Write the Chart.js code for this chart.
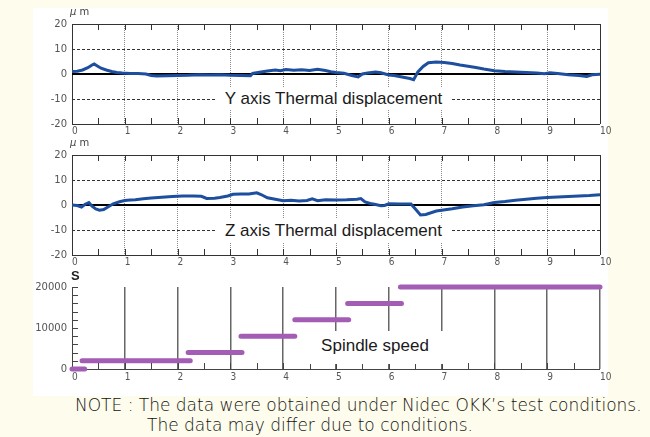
<!DOCTYPE html>
<html>
<head>
<meta charset="utf-8">
<script src="https://cdn.jsdelivr.net/npm/chart.js@4.4.0/dist/chart.umd.min.js"></script>
<style>
body { margin:0; width:650px; height:437px; overflow:hidden; position:relative; background:#fefcec; }
#panel { position:absolute; left:33px; top:8px; width:575px; height:388px; background:#fff; }
canvas { position:absolute; left:0; }
.box { position:absolute; background:#fff; font-family:"Liberation Sans", Arial, sans-serif; font-size:17px; color:#1a1a1a; text-align:center; }
.unit { position:absolute; left:70px; font-family:"DejaVu Sans", sans-serif; font-size:10px; color:#444; }
.unit i { font-style:italic; }
.s { position:absolute; left:71px; top:268px; font-family:"Liberation Sans", Arial, sans-serif; font-weight:bold; font-size:13px; color:#222; }
.note { position:absolute; font-family:"DejaVu Sans", sans-serif; font-weight:200; font-size:17px; line-height:20px; color:#111; white-space:nowrap; }
</style>
</head>
<body>
<div id="panel"></div>
<canvas id="cY" width="650" height="138" style="top:0;width:650px;height:138px"></canvas>
<canvas id="cZ" width="650" height="134" style="top:138px;width:650px;height:134px"></canvas>
<canvas id="cS" width="650" height="118" style="top:272px;width:650px;height:118px"></canvas>

<div class="unit" style="top:6px"><i>μ</i> m</div>
<div class="unit" style="top:137px"><i>μ</i> m</div>
<div class="s">S</div>
<div class="box" style="left:215px;top:87px;width:237px;height:23px;line-height:23px">Y axis Thermal displacement</div>
<div class="box" style="left:215px;top:219px;width:237px;height:23px;line-height:23px">Z axis Thermal displacement</div>
<div class="box" style="left:300px;top:331px;width:150px;height:33px;line-height:30px">Spindle speed</div>
<div class="note" style="left:75px;top:395px">NOTE : The data were obtained under Nidec OKK’s test conditions.</div>
<div class="note" style="left:147px;top:415px">The data may differ due to conditions.</div>

<script>
// Y axis thermal displacement (um) vs time
var timeY = [0, 0.1, 0.2, 0.3, 0.38, 0.42, 0.48, 0.55, 0.65, 0.75, 0.85, 0.95, 1.1, 1.25, 1.4, 1.5, 1.6, 1.8, 2.0, 2.2, 2.4, 2.6, 2.8, 3.0, 3.2, 3.38,
  3.42, 3.55, 3.7, 3.85, 3.95, 4.05, 4.2, 4.35, 4.5, 4.65, 4.8, 4.9, 5.0, 5.15, 5.3, 5.42, 5.5, 5.6, 5.75, 5.85, 6.0, 6.1, 6.25, 6.4, 6.47,
  6.55, 6.65, 6.75, 6.9, 7.05, 7.2, 7.35, 7.5, 7.65, 7.8, 8.0, 8.2, 8.4, 8.6, 8.8, 8.95, 9.05, 9.2, 9.4, 9.6, 9.75, 9.85, 10];
var dispY = [1.0, 1.1, 1.6, 2.5, 3.6, 4.0, 3.2, 2.3, 1.6, 1.0, 0.6, 0.4, 0.2, 0.2, 0.0, -0.6, -0.8, -0.7, -0.6, -0.5, -0.3, -0.4, -0.3, -0.5, -0.6, -0.7,
  0.2, 0.7, 1.2, 1.6, 1.3, 1.8, 1.5, 1.7, 1.4, 1.9, 1.4, 0.9, 0.6, 0.3, -0.6, -1.2, 0.0, 0.4, 0.8, 0.5, -0.4, -0.6, -1.2, -1.8, -2.3,
  0.8, 3.0, 4.5, 4.8, 4.6, 4.2, 3.6, 3.1, 2.6, 2.0, 1.3, 1.0, 0.8, 0.6, 0.4, 0.1, 0.5, 0.2, -0.3, -0.6, -1.0, -0.3, -0.1];

// Z axis thermal displacement (um) vs time
var timeZ = [0, 0.1, 0.18, 0.25, 0.32, 0.38, 0.45, 0.52, 0.6, 0.68, 0.78, 0.9, 1.0, 1.1, 1.2, 1.35, 1.5, 1.7, 1.9, 2.1, 2.3, 2.45, 2.55, 2.7, 2.8, 2.95,
  3.05, 3.2, 3.35, 3.5, 3.58, 3.7, 3.85, 4.0, 4.15, 4.3, 4.45, 4.55, 4.65, 4.8, 5.0, 5.2, 5.4, 5.47, 5.55, 5.65, 5.75, 5.85, 5.92, 6.0, 6.2, 6.42,
  6.5, 6.6, 6.7, 6.9, 7.0, 7.2, 7.4, 7.6, 7.8, 8.0, 8.2, 8.4, 8.6, 8.8, 9.0, 9.2, 9.4, 9.6, 9.8, 10];
var dispZ = [0.0, -0.2, -0.8, 0.3, 1.0, -0.5, -1.6, -2.1, -1.8, -0.8, 0.5, 1.3, 1.8, 2.0, 2.1, 2.5, 2.8, 3.1, 3.4, 3.6, 3.6, 3.5, 2.6, 2.7, 3.0, 3.6,
  4.3, 4.4, 4.4, 4.9, 4.2, 2.9, 2.3, 1.7, 1.9, 1.6, 1.8, 2.5, 1.7, 2.1, 2.0, 2.1, 2.3, 2.6, 1.2, 0.6, 0.2, -0.3, -0.2, 0.5, 0.4, 0.4,
  -1.5, -4.0, -3.8, -2.4, -2.1, -1.5, -0.8, -0.3, 0.1, 1.0, 1.4, 1.9, 2.3, 2.7, 3.0, 3.2, 3.4, 3.6, 3.8, 4.1];

// Spindle speed steps
var stepStart = [0, 0.19, 2.2, 3.2, 4.22, 5.22, 6.22];
var stepEnd = [0.24, 2.24, 3.22, 4.22, 5.24, 6.24, 10];
var stepSpeed = [0, 2000, 4000, 8000, 12000, 16000, 20000];

var tickFont = { family: 'DejaVu Sans', size: 10 };
var xFont = { family: 'DejaVu Sans Condensed', size: 10 };

var innerTicks = {
  id: 'innerTicks',
  afterDatasetsDraw: function (chart, args, o) {
    var ctx = chart.ctx, a = chart.chartArea, x = chart.scales.x, y = chart.scales.y;
    ctx.save();
    ctx.strokeStyle = o.color;
    ctx.lineWidth = 1;
    ctx.beginPath();
    for (var v = 0.5; v < 10; v += 0.5) {
      var px = Math.round(x.getPixelForValue(v)) + 0.5;
      if (o.top) { ctx.moveTo(px, a.top); ctx.lineTo(px, a.top + 6); }
      ctx.moveTo(px, a.bottom); ctx.lineTo(px, a.bottom - 6);
    }
    if (o.yStep) {
      for (var w = o.yStep; w <= y.max; w += o.yStep) {
        var py = Math.round(y.getPixelForValue(w)) + 0.5;
        ctx.moveTo(a.left, py); ctx.lineTo(a.left + 6, py);
      }
    }
    ctx.stroke();
    ctx.restore();
  }
};

function points(xs, ys) {
  return xs.map(function (t, i) { return { x: t, y: ys[i] }; });
}

function thermal(id, xs, ys, padTop, xHeight) {
  return new Chart(document.getElementById(id), {
    type: 'line',
    data: { datasets: [{ data: points(xs, ys), borderColor: '#1d4f9e', borderWidth: 3, pointRadius: 0, tension: 0 }] },
    plugins: [innerTicks],
    options: {
      responsive: false, animation: false, events: [],
      layout: { padding: { top: padTop, right: 50, left: 0, bottom: 0 } },
      plugins: { legend: { display: false }, tooltip: { enabled: false }, innerTicks: { color: '#333', top: true } },
      scales: {
        x: {
          type: 'linear', min: 0, max: 10,
          afterFit: function (s) { s.height = xHeight; },
          ticks: { stepSize: 1, align: 'start', padding: 1, color: '#555', font: xFont },
          grid: { drawTicks: false, color: function (c) { return (c.tick.value === 0 || c.tick.value === 10) ? '#333' : '#8a8a8a'; } },
          border: { display: false, dash: function (c) { return (c.tick && c.tick.value > 0 && c.tick.value < 10) ? [1, 1] : []; } }
        },
        y: {
          min: -20, max: 20,
          afterFit: function (s) { s.width = 72; },
          ticks: { stepSize: 10, padding: 5, color: '#555', font: tickFont },
          grid: {
            drawTicks: false,
            color: function (c) { return c.tick.value === 0 ? '#000' : '#333'; },
            lineWidth: function (c) { return c.tick.value === 0 ? 2 : 1; }
          },
          border: { display: false, dash: function (c) { return (c.tick && Math.abs(c.tick.value) === 10) ? [3, 2] : []; } }
        }
      }
    }
  });
}

thermal('cY', timeY, dispY, 24, 14);
thermal('cZ', timeZ, dispZ, 17, 17);

var speedPts = [];
stepSpeed.forEach(function (s, i) {
  speedPts.push({ x: stepStart[i], y: s }, { x: stepEnd[i], y: s }, { x: stepEnd[i], y: null });
});

new Chart(document.getElementById('cS'), {
  type: 'line',
  data: { datasets: [{ data: speedPts, borderColor: '#a35db5', borderWidth: 5, borderCapStyle: 'round', pointRadius: 0, spanGaps: false, clip: false }] },
  plugins: [innerTicks],
  options: {
    responsive: false, animation: false, events: [],
    layout: { padding: { top: 15, right: 50, left: 0, bottom: 0 } },
    plugins: { legend: { display: false }, tooltip: { enabled: false }, innerTicks: { color: '#444', top: false, yStep: 2000 } },
    scales: {
      x: {
        type: 'linear', min: 0, max: 10,
        afterFit: function (s) { s.height = 21; },
        ticks: { stepSize: 1, align: 'start', padding: 2, color: '#555', font: xFont },
        grid: { drawTicks: false, color: function (c) { return c.tick.value === 0 ? '#444' : '#666'; }, lineWidth: function (c) { return c.tick.value === 0 ? 1 : 1.5; } },
        border: { display: false }
      },
      y: {
        min: 0, max: 20000,
        afterFit: function (s) { s.width = 72; },
        ticks: { stepSize: 10000, padding: 5, color: '#555', font: tickFont, callback: function (v) { return String(v); } },
        grid: { drawTicks: false, color: function (c) { return c.tick.value === 0 ? '#444' : 'rgba(0,0,0,0)'; } },
        border: { display: false }
      }
    }
  }
});
</script>
</body>
</html>
